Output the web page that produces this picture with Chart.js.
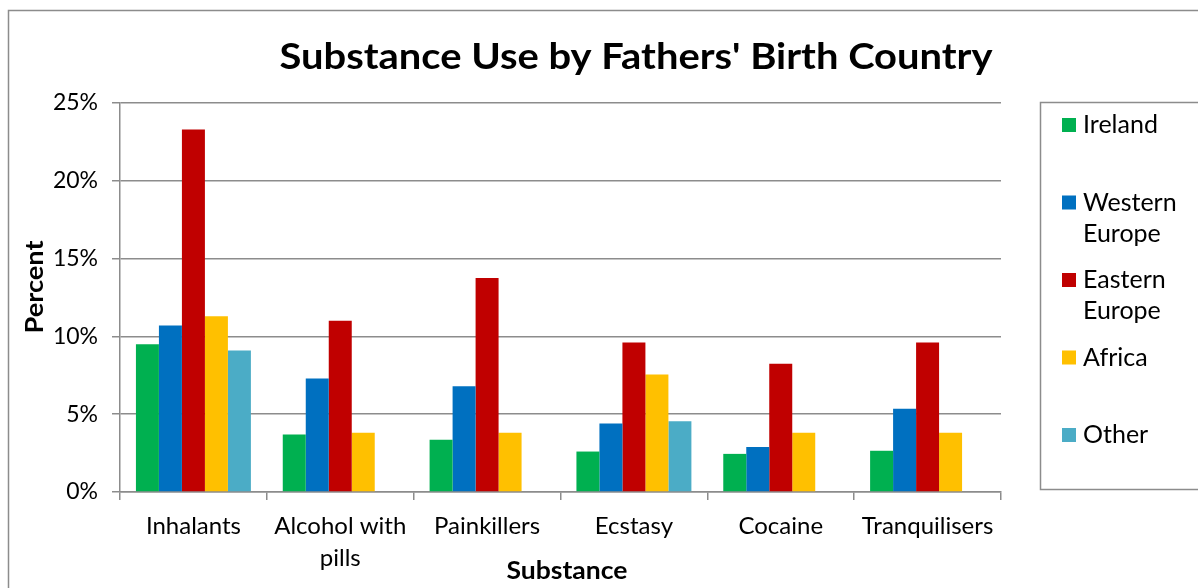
<!DOCTYPE html>
<html>
<head>
<meta charset="utf-8">
<title>Substance Use by Fathers' Birth Country</title>
<script src="https://cdn.jsdelivr.net/npm/chart.js@4.4.1/dist/chart.umd.min.js"></script>
<style>
    html, body { margin: 0; padding: 0; background: #fff; }
    #chart { display: block; }
</style>
</head>
<body>
<canvas id="chart" width="1198" height="588"></canvas>
<script>
// Chart data
const substances = ['Inhalants', ['Alcohol with', 'pills'], 'Painkillers', 'Ecstasy', 'Cocaine', 'Tranquilisers'];
const countries = ['Ireland', 'Western Europe', 'Eastern Europe', 'Africa', 'Other'];
const ireland = [9.5, 3.7, 3.35, 2.6, 2.45, 2.65];
const westernEurope = [10.7, 7.3, 6.8, 4.4, 2.9, 5.35];
const easternEurope = [23.3, 11.0, 13.75, 9.6, 8.25, 9.6];
const africa = [11.3, 3.8, 3.8, 7.55, 3.8, 3.8];
const other = [9.1, null, null, 4.55, null, null];
const yTicks = [0, 5, 10, 15, 20, 25];

const colors = ['#00b050', '#0070c0', '#c00000', '#ffc000', '#4bacc6'];
const FONT = 'Lato, "Open Sans", sans-serif';
const GRID = '#8c8c8c';

// draw text centred at (x, y), stretched sideways to a given width
function fitText(ctx, text, x, y, width) {
    const w = ctx.measureText(text).width;
    ctx.save();
    ctx.translate(x, y);
    ctx.scale(width / w, 1);
    ctx.fillText(text, 0, 0);
    ctx.restore();
}

// Frame, title, axis titles and legend drawn on the canvas
const decorations = {
    id: 'decorations',
    beforeDraw(chart) {
        const ctx = chart.ctx;
        ctx.save();
        ctx.fillStyle = '#fff';
        ctx.fillRect(0, 0, chart.width, chart.height);
        ctx.strokeStyle = GRID;
        ctx.lineWidth = 1.5;
        ctx.strokeRect(8.5, 10.5, 1400, 800);
        ctx.restore();
    },
    afterDraw(chart) {
        const ctx = chart.ctx;
        ctx.save();
        ctx.fillStyle = '#000';
        ctx.textAlign = 'center';
        ctx.textBaseline = 'middle';

        ctx.font = 'bold 36px ' + FONT;
        fitText(ctx, "Substance Use by Fathers' Birth Country", 636, 57, 713);

        ctx.font = 'bold 24px ' + FONT;
        fitText(ctx, 'Substance', 567, 571, 121);
        ctx.save();
        ctx.translate(35, 287);
        ctx.rotate(-Math.PI / 2);
        fitText(ctx, 'Percent', 0, 0, 93);
        ctx.restore();

        // legend box
        ctx.strokeStyle = GRID;
        ctx.lineWidth = 1.5;
        ctx.strokeRect(1040.5, 102.5, 300, 387);
        ctx.textAlign = 'left';
        ctx.font = '25px ' + FONT;
        chart.data.datasets.forEach((ds, i) => {
            const y = 125 + i * 77.5;
            ctx.fillStyle = ds.backgroundColor;
            ctx.fillRect(1062, y - 7, 14, 14);
            ctx.fillStyle = '#000';
            ds.label.split(' ').forEach((word, j) => {
                ctx.fillText(word, 1083, y + j * 31);
            });
        });
        ctx.restore();
    }
};

const series = [ireland, westernEurope, easternEurope, africa, other];

new Chart(document.getElementById('chart'), {
    type: 'bar',
    data: {
        labels: substances,
        datasets: series.map((values, i) => ({
            label: countries[i],
            data: values,
            backgroundColor: colors[i],
            borderWidth: 0,
            barPercentage: 1,
            categoryPercentage: 0.783
        }))
    },
    options: {
        responsive: false,
        animation: false,
        layout: { padding: { top: 103, right: 197, bottom: 0, left: 0 } },
        plugins: {
            legend: { display: false },
            title: { display: false },
            tooltip: { enabled: false }
        },
        scales: {
            x: {
                afterFit: (scale) => { scale.height = 96; },
                grid: { drawOnChartArea: false, drawTicks: true, tickLength: 8, color: GRID, lineWidth: 1.5, offset: true },
                border: { display: true, color: GRID, width: 1.5 },
                ticks: { color: '#000', font: { family: FONT, size: 24, lineHeight: 1.3 }, padding: 11, maxRotation: 0, autoSkip: false }
            },
            y: {
                min: yTicks[0],
                max: yTicks[yTicks.length - 1],
                afterFit: (scale) => { scale.width = 120; },
                afterBuildTicks: (scale) => { scale.ticks = yTicks.map(v => ({ value: v })); },
                grid: { color: GRID, lineWidth: 1.5, tickLength: 8 },
                border: { display: true, color: GRID, width: 1.5 },
                ticks: { color: '#000', font: { family: FONT, size: 23 }, padding: 14, callback: (v) => v + '%' }
            }
        }
    },
    plugins: [decorations]
});
</script>
</body>
</html>
